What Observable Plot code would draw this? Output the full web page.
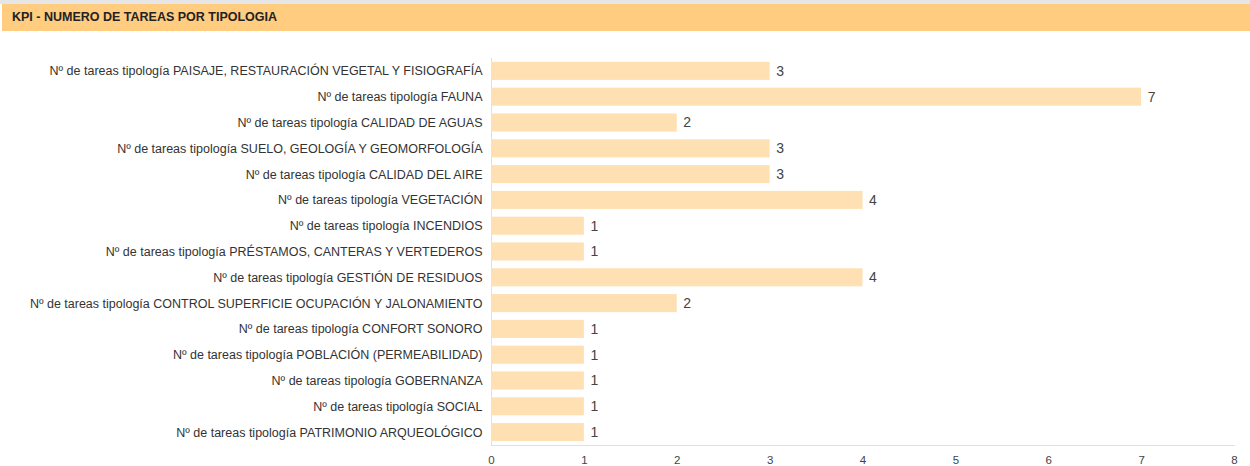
<!DOCTYPE html>
<html>
<head>
<meta charset="utf-8">
<script src="https://cdn.jsdelivr.net/npm/d3@7"></script>
<script src="https://cdn.jsdelivr.net/npm/@observablehq/plot@0.6"></script>
<style>
  html, body { margin: 0; padding: 0; background: #fff; }
  body { width: 1250px; height: 466px; overflow: hidden; font-family: "Liberation Sans", Arial, sans-serif; }
  #topline { height: 4px; background: #e6e6e6; }
  #header { height: 27px; margin-left: 2px; background: #ffcc80; color: #222; font-weight: bold; font-size: 12.5px; line-height: 27px; padding-left: 10px; box-sizing: border-box; }
  #chart svg { display: block; }
</style>
</head>
<body>
<div id="topline"></div>
<div id="header">KPI - NUMERO DE TAREAS POR TIPOLOGIA</div>
<div id="chart"></div>
<script>
const categories = [
  "Nº de tareas tipología PAISAJE, RESTAURACIÓN VEGETAL Y FISIOGRAFÍA",
  "Nº de tareas tipología FAUNA",
  "Nº de tareas tipología CALIDAD DE AGUAS",
  "Nº de tareas tipología SUELO, GEOLOGÍA Y GEOMORFOLOGÍA",
  "Nº de tareas tipología CALIDAD DEL AIRE",
  "Nº de tareas tipología VEGETACIÓN",
  "Nº de tareas tipología INCENDIOS",
  "Nº de tareas tipología PRÉSTAMOS, CANTERAS Y VERTEDEROS",
  "Nº de tareas tipología GESTIÓN DE RESIDUOS",
  "Nº de tareas tipología CONTROL SUPERFICIE OCUPACIÓN Y JALONAMIENTO",
  "Nº de tareas tipología CONFORT SONORO",
  "Nº de tareas tipología POBLACIÓN (PERMEABILIDAD)",
  "Nº de tareas tipología GOBERNANZA",
  "Nº de tareas tipología SOCIAL",
  "Nº de tareas tipología PATRIMONIO ARQUEOLÓGICO"
];
const values = [3, 7, 2, 3, 3, 4, 1, 1, 4, 2, 1, 1, 1, 1, 1];
const xTicks = [0, 1, 2, 3, 4, 5, 6, 7, 8];

const data = categories.map((c, i) => ({category: c, value: values[i]}));

const chart = Plot.plot({
  width: 1250,
  height: 435,
  marginLeft: 491,
  marginRight: 16,
  marginTop: 27,
  marginBottom: 21,
  style: {fontFamily: "'Liberation Sans', Arial, sans-serif", fontSize: "12px", color: "#333", background: "#fff"},
  x: {domain: [0, 8], ticks: xTicks},
  y: {domain: categories, paddingInner: 0.3, paddingOuter: 0.15, round: false, label: null},
  marks: [
    Plot.frame({anchor: "bottom", stroke: "#e0e0e0"}),
    Plot.ruleX([0], {stroke: "#e0e0e0"}),
    Plot.barX(data, {x: "value", y: "category", fill: "#ffe0b2"}),
    Plot.text(data, {x: "value", y: "category", text: d => String(d.value), dx: 6, textAnchor: "start", fill: "#444", fontSize: 14}),
    Plot.axisX({ticks: xTicks, tickSize: 0, tickPadding: 10, label: null, fill: "#444", fontSize: 11.5}),
    Plot.axisY({tickSize: 0, tickPadding: 9, label: null, fill: "#333", fontSize: 12.5})
  ]
});
document.getElementById("chart").appendChild(chart);
</script>
</body>
</html>
